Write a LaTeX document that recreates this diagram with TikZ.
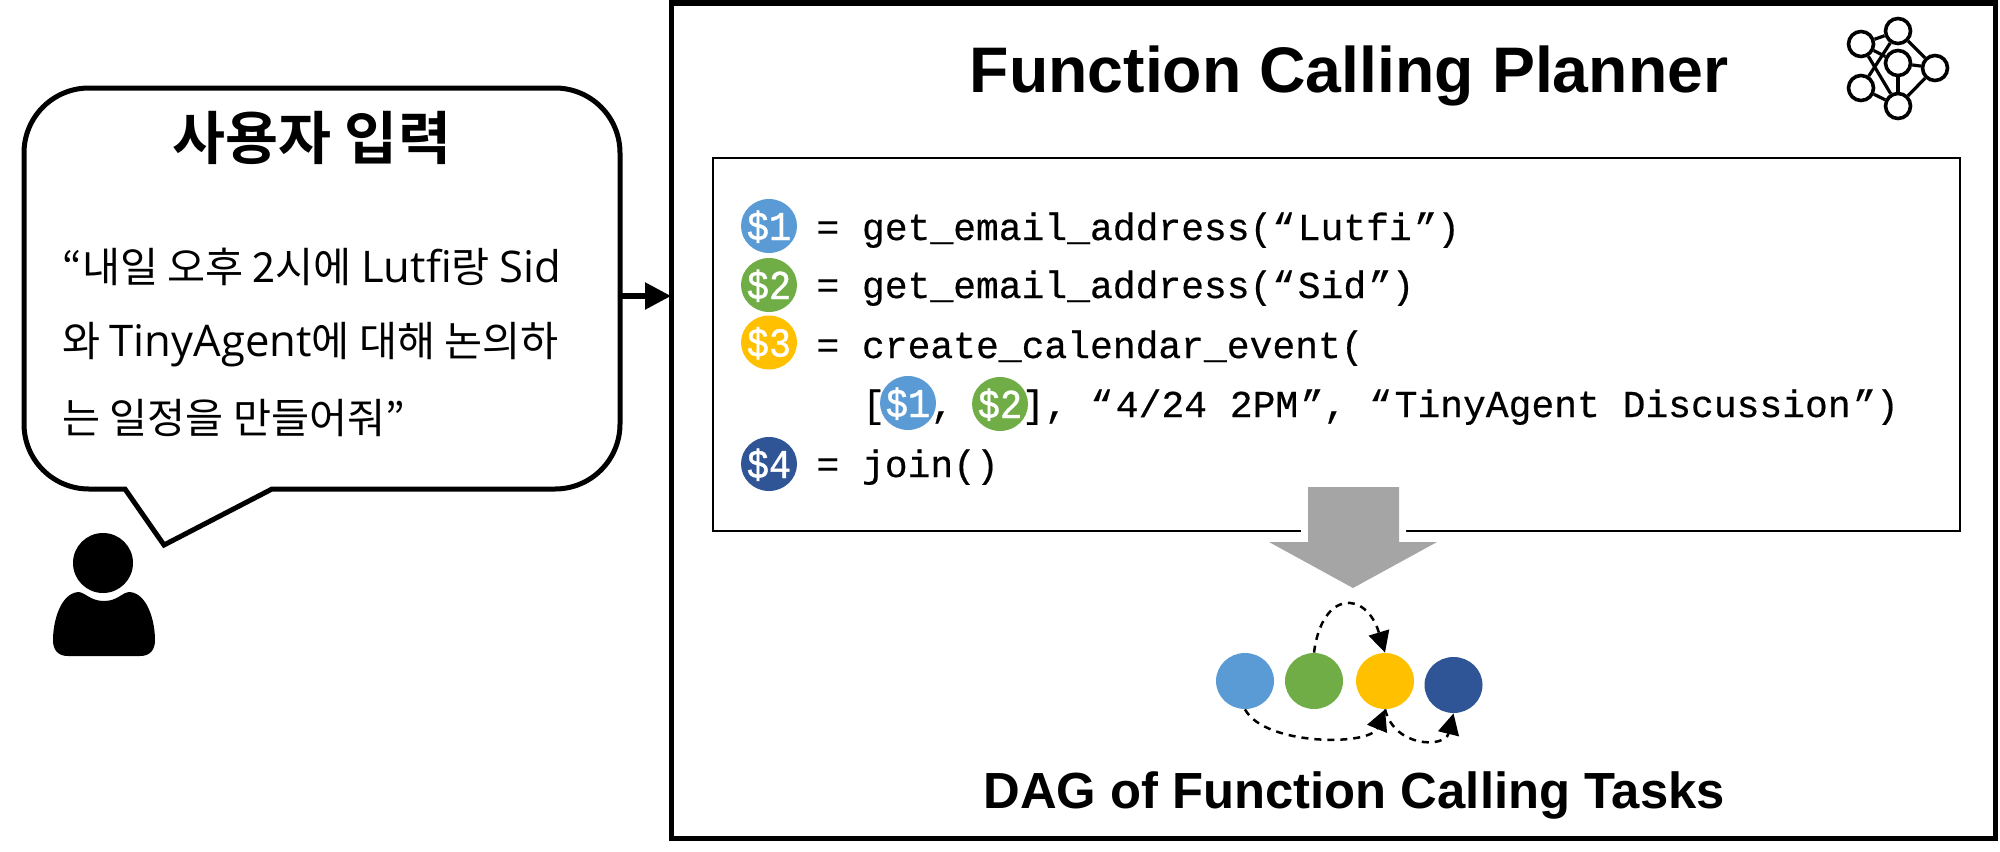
\documentclass[tikz,border=0pt]{standalone}
\usepackage{fontspec}
\usetikzlibrary{shapes.geometric,arrows.meta}
\setmainfont{Liberation Sans}
\newfontfamily\krfont{Noto Sans CJK KR}
\newfontfamily\krbold{Noto Sans CJK KR Bold}
\newfontfamily\latfont{Open Sans}
\newfontfamily\codefont[FakeBold=0.5]{Liberation Mono}
\newfontfamily\tokfont[FakeStretch=0.9,FakeBold=1]{Liberation Mono}
\newcommand{\lat}[1]{{\latfont\fontsize{21.8}{21.8}\selectfont #1}}
\newcommand{\oq}{“\hspace{1.3pt}}
\newcommand{\cq}{\hspace{1.3pt}”}
\definecolor{tokA}{HTML}{5B9BD5}
\definecolor{tokB}{HTML}{70AD47}
\definecolor{tokC}{HTML}{FFC000}
\definecolor{tokD}{HTML}{2F5597}
\definecolor{bigarrow}{HTML}{A5A5A5}
\tikzset{
  tok/.style={ellipse,minimum width=28pt,minimum height=27pt,inner sep=0pt,text=white,font=\tokfont\fontsize{20.5}{20.5}\selectfont},
  codeline/.style={anchor=base west,inner sep=0pt,font=\codefont\fontsize{19}{19}\selectfont},
  queryline/.style={anchor=base west,inner sep=0pt,font=\krfont\fontsize{20.7}{20.7}\selectfont},
  dagnode/.style={ellipse,minimum width=29pt,minimum height=28pt,inner sep=0pt},
  dagedge/.style={line width=1.25pt,dash pattern=on 3.5pt off 3pt,-{Triangle[length=10.5pt,width=10.5pt]}},
  netnode/.style={circle,draw=black,fill=white,line width=1.8pt,minimum size=12.5pt,inner sep=0pt},
  netedge/.style={line width=1.6pt},
}
\newcommand{\toklabel}[1]{\makebox[0pt]{\raisebox{-7pt}[0pt][0pt]{#1}}}
\begin{document}
\begin{tikzpicture}[x=0.5pt,y=-0.5pt]
\useasboundingbox (0,0) rectangle (2000,851);
% speech bubble
\draw[line width=2.5pt,fill=white,line join=miter]
  (89,88) -- (555,88)
  .. controls (591,88) and (620,117) .. (620,153)
  -- (620,424)
  .. controls (620,460) and (591,489) .. (555,489)
  -- (272,489) -- (164,545) -- (125,489) -- (89,489)
  .. controls (53,489) and (24,460) .. (24,424)
  -- (24,153)
  .. controls (24,117) and (53,88) .. (89,88) -- cycle;
\node[anchor=base,font=\krbold\fontsize{28.8}{28.8}\selectfont,inner sep=0pt] (title) at (312,159) {사용자 입력};
\node[queryline] (q1) at (62,282) {“내일 오후 2시에 \lat{Lutfi}랑 \lat{Sid}};
\node[queryline] (q2) at (62,356) {와 \lat{TinyAgent}에 대해 논의하};
\node[queryline] (q3) at (62,433) {는 일정을 만들어줘”};
% person
\fill (103,563) ellipse [x radius=30,y radius=30];
\fill (104,601) .. controls (90,601) and (85,592) .. (78,592)
  .. controls (60,594) and (53,622) .. (53,640)
  .. controls (53,650) and (58,656) .. (68,656)
  -- (140,656)
  .. controls (150,656) and (155,650) .. (155,640)
  .. controls (155,622) and (148,594) .. (130,592)
  .. controls (122,592) and (118,601) .. (104,601) -- cycle;
% planner frame
\node[draw,line width=2.5pt,minimum width=662pt,minimum height=417.5pt,inner sep=0pt,outer sep=0pt,anchor=north west] (planner) at (671,3) {};
\coordinate (bubbleE) at (620,296);
\draw[line width=2.7pt,-{Triangle[length=13pt,width=13pt]}] (bubbleE) -- (planner.west |- bubbleE);
\node[font=\bfseries\fontsize{32.2}{32.2}\selectfont,inner sep=0pt] (ptitle) at (1349,76) {Function Calling Planner};
% network icon
\node[netnode] (na) at (1861,44) {};
\node[netnode] (nb) at (1898,31) {};
\node[netnode] (nc) at (1898,63) {};
\node[netnode] (nd) at (1935,68) {};
\node[netnode] (ne) at (1861,88) {};
\node[netnode] (nf) at (1898,106) {};
\draw[netedge] (na) -- (nb);
\draw[netedge] (na) -- (nc);
\draw[netedge] (na) -- (nf);
\draw[netedge] (nb) -- (ne);
\draw[netedge] (nb) -- (nd);
\draw[netedge] (nc) -- (nd);
\draw[netedge] (nc) -- (nf);
\draw[netedge] (nd) -- (nf);
\draw[netedge] (ne) -- (nf);
% code box
\node[draw,line width=1.3pt,minimum width=623.5pt,minimum height=186.5pt,inner sep=0pt,outer sep=0pt,anchor=north west] (codebox) at (713,158) {};
\node[codeline] (l1) at (816,240) {= get\_email\_address(\oq Lutfi\cq)};
\node[codeline] (l2) at (816,298) {= get\_email\_address(\oq Sid\cq)};
\node[codeline] (l3) at (816,358) {= create\_calendar\_event(};
\node[codeline] (l4) at (862,417) {[\phantom{\$1}, \phantom{\$2}], \oq 4/24 2PM\cq, \oq TinyAgent Discussion\cq)};
\node[codeline] (l5) at (816,477) {= join()};
\node[tok,fill=tokA] (t1) at (769,226) {\toklabel{\$1}};
\node[tok,fill=tokB] (t2) at (769,285) {\toklabel{\$2}};
\node[tok,fill=tokC] (t3) at (769,342.5) {\toklabel{\$3}};
\node[tok,fill=tokD] (t4) at (769,464) {\toklabel{\$4}};
\node[tok,fill=tokA] (t1b) at (908,403) {\toklabel{\$1}};
\node[tok,fill=tokB] (t2b) at (1000,404) {\toklabel{\$2}};
% big arrow
\path[fill=white,draw=white,line width=7pt,line join=miter]
  (1308,487) -- (1399,487) -- (1399,542) -- (1437,542) -- (1353,588) -- (1269,542) -- (1308,542) -- cycle;
\fill[bigarrow] (1308,487) -- (1399,487) -- (1399,542) -- (1437,542) -- (1353,588) -- (1269,542) -- (1308,542) -- cycle;
% DAG
\node[dagnode,fill=tokA] (c1) at (1245,681) {};
\node[dagnode,fill=tokB] (c2) at (1314,681) {};
\node[dagnode,fill=tokC] (c3) at (1385,681) {};
\node[dagnode,fill=tokD] (c4) at (1453.5,685) {};
\draw[dagedge] (c2.north) .. controls (1322,590) and (1366,590) .. (c3.north);
\draw[dagedge] (c1.south) .. controls (1265,746) and (1370,746) .. (c3.south);
\draw[dagedge] (c3.south) .. controls (1395,748) and (1445,748) .. (c4.south);
\node[font=\bfseries\fontsize{25.4}{25.4}\selectfont,inner sep=0pt] (dagtitle) at (1354,795) {DAG of Function Calling Tasks};
\end{tikzpicture}
\end{document}
